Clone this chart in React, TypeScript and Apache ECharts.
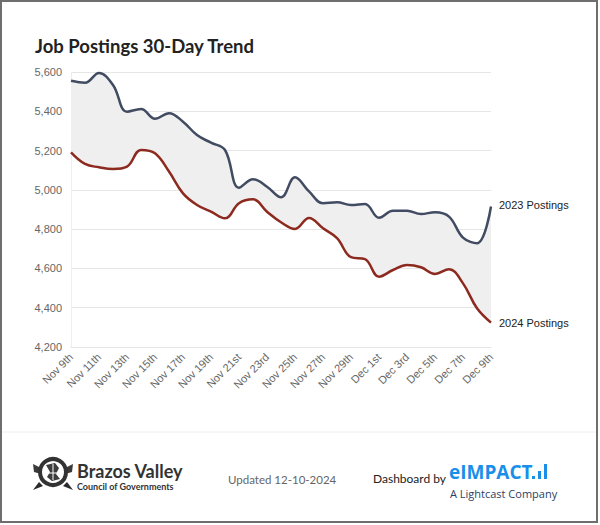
import React, { useEffect, useRef } from "react";
import * as echarts from "echarts";

const categories = [
  "Nov 9th", "Nov 10th", "Nov 11th", "Nov 12th", "Nov 13th", "Nov 14th", "Nov 15th", "Nov 16th",
  "Nov 17th", "Nov 18th", "Nov 19th", "Nov 20th", "Nov 21st", "Nov 22nd", "Nov 23rd", "Nov 24th",
  "Nov 25th", "Nov 26th", "Nov 27th", "Nov 28th", "Nov 29th", "Nov 30th", "Dec 1st", "Dec 2nd",
  "Dec 3rd", "Dec 4th", "Dec 5th", "Dec 6th", "Dec 7th", "Dec 8th", "Dec 9th",
];

const postings2023 = [
  5555, 5545, 5595, 5534, 5398, 5412, 5362, 5390, 5347, 5279, 5240, 5203, 5011, 5054, 5016, 4962,
  5064, 4992, 4932, 4937, 4923, 4928, 4858, 4894, 4894, 4877, 4886, 4864, 4757, 4728, 4915,
];

const postings2024 = [
  5191, 5132, 5115, 5106, 5118, 5203, 5186, 5093, 4982, 4923, 4889, 4855, 4932, 4952, 4889, 4835,
  4801, 4857, 4804, 4754, 4657, 4647, 4558, 4592, 4618, 4606, 4572, 4596, 4524, 4397, 4324,
];

const yMin = 4200;
const yMax = 5600;
const yStep = 200;

const titleText = "Job Postings 30-Day Trend";
const label2023 = "2023 Postings";
const label2024 = "2024 Postings";
const updatedText = "Updated 12-10-2024";

export default function App() {
  const ref = useRef<HTMLDivElement>(null);

  useEffect(() => {
    if (!ref.current) return;
    const chart = echarts.init(ref.current, undefined, { renderer: "svg" });
    const band = postings2023.map((v, i) => v - postings2024[i]);
    const smooth = 0.4;

    const option: any = {
      animation: false,
      backgroundColor: "#ffffff",
      grid: { left: 71, right: 109, top: 72, bottom: 178, containLabel: false },
      xAxis: {
        type: "category",
        data: categories,
        boundaryGap: false,
        axisLine: { show: true, lineStyle: { color: "#e6e6e6", width: 1 } },
        axisTick: { show: false },
        splitLine: { show: false },
        axisLabel: {
          interval: 1,
          rotate: 45,
          color: "#666666",
          fontSize: 11,
          fontFamily: "Liberation Sans, Arial, sans-serif",
          margin: 8,
        },
      },
      yAxis: {
        type: "value",
        min: yMin,
        max: yMax,
        interval: yStep,
        axisLine: { show: true, lineStyle: { color: "#eeeeee", width: 1 } },
        axisTick: { show: false },
        splitLine: { show: true, lineStyle: { color: "#e6e6e6", width: 1 } },
        axisLabel: {
          color: "#666666",
          fontSize: 11,
          fontFamily: "Liberation Sans, Arial, sans-serif",
          margin: 9,
          formatter: (v: number) => v.toLocaleString("en-US"),
        },
      },
      series: [
        {
          type: "line",
          data: postings2024,
          stack: "band",
          smooth,
          symbol: "none",
          lineStyle: { opacity: 0 },
          silent: true,
          z: 1,
        },
        {
          type: "line",
          data: band,
          stack: "band",
          smooth,
          symbol: "none",
          lineStyle: { opacity: 0 },
          areaStyle: { color: "#efefef", opacity: 1 },
          silent: true,
          z: 1,
        },
        {
          name: label2023,
          type: "line",
          data: postings2023,
          smooth,
          symbol: "none",
          lineStyle: { color: "#414b62", width: 2.5 },
          z: 3,
          endLabel: {
            show: true,
            formatter: label2023,
            color: "#222222",
            fontSize: 11,
            fontFamily: "Liberation Sans, Arial, sans-serif",
            distance: 8,
            offset: [0, -2],
          },
        },
        {
          name: label2024,
          type: "line",
          data: postings2024,
          smooth,
          symbol: "none",
          lineStyle: { color: "#8c2a1f", width: 2.5 },
          z: 3,
          endLabel: {
            show: true,
            formatter: label2024,
            color: "#222222",
            fontSize: 11,
            fontFamily: "Liberation Sans, Arial, sans-serif",
            distance: 8,
          },
        },
      ],
      graphic: [
        {
          type: "rect",
          shape: { x: 1, y: 1, width: 596, height: 521 },
          style: { fill: "none", stroke: "#6e6e6e", lineWidth: 2 },
          silent: true,
          z: 10,
        },
        {
          type: "line",
          shape: { x1: 2, y1: 432, x2: 596, y2: 432 },
          style: { stroke: "#eeeeee", lineWidth: 1 },
          silent: true,
        },
        {
          type: "text",
          x: 35,
          y: 46,
          style: {
            text: titleText,
            font: "bold 18.5px Lato, sans-serif",
            fill: "#222222",
            textVerticalAlign: "middle",
          },
        },
        // Brazos Valley emblem
        {
          type: "group",
          x: 53,
          y: 472,
          children: [
            { type: "polygon", shape: { points: [[-20, -8], [-12, -4], [-12, 2], [-19, 0]] }, style: { fill: "#3a3a3a" } },
            { type: "polygon", shape: { points: [[20, -8], [12, -4], [12, 2], [19, 0]] }, style: { fill: "#3a3a3a" } },
            { type: "polygon", shape: { points: [[-14, 10], [-20, 18], [-10, 14]] }, style: { fill: "#2a2a2a" } },
            { type: "polygon", shape: { points: [[14, 10], [20, 18], [10, 14]] }, style: { fill: "#2a2a2a" } },
            { type: "circle", shape: { cx: 0, cy: 0, r: 13 }, style: { fill: "#ffffff", stroke: "#333333", lineWidth: 4 } },
            { type: "polygon", shape: { points: [[-7, -7], [2, -9], [6, -4], [3, 2], [7, 7], [-1, 9], [-6, 5], [-3, 0]] }, style: { fill: "#3d3d3d" } },
            { type: "line", shape: { x1: -6, y1: 1, x2: 6, y2: 1 }, style: { stroke: "#ffffff", lineWidth: 1 } },
            { type: "line", shape: { x1: 0, y1: -8, x2: 0, y2: 8 }, style: { stroke: "#ffffff", lineWidth: 1 } },
          ],
        },
        {
          type: "text",
          x: 77,
          y: 471,
          style: {
            text: "Brazos Valley",
            font: "bold 18px Lato, sans-serif",
            fill: "#333333",
            textVerticalAlign: "middle",
          },
        },
        {
          type: "text",
          x: 77,
          y: 486,
          style: {
            text: "Council of Governments",
            font: "bold 9px Lato, sans-serif",
            fill: "#333333",
            textVerticalAlign: "middle",
          },
        },
        {
          type: "text",
          x: 228,
          y: 479,
          style: {
            text: updatedText,
            font: "11.5px Lato, sans-serif",
            fill: "#666666",
            textVerticalAlign: "middle",
          },
        },
        {
          type: "text",
          x: 373,
          y: 478,
          style: {
            text: "Dashboard by",
            font: "12px Lato, sans-serif",
            fill: "#222222",
            textVerticalAlign: "middle",
          },
        },
        {
          type: "text",
          x: 449,
          y: 472,
          style: {
            text: "eIMPACT",
            font: "bold 19px 'Open Sans', sans-serif",
            fill: "#1a8fea",
            lineHeight: 19,
            textVerticalAlign: "middle",
          },
        },
        { type: "rect", shape: { x: 532, y: 476, width: 3, height: 3 }, style: { fill: "#1a8fea" } },
        { type: "rect", shape: { x: 538, y: 471, width: 3, height: 8 }, style: { fill: "#1a8fea" } },
        { type: "rect", shape: { x: 544, y: 464, width: 3, height: 15 }, style: { fill: "#1a8fea" } },
        {
          type: "text",
          x: 450,
          y: 493,
          style: {
            text: "A Lightcast Company",
            font: "11px 'Open Sans', sans-serif",
            fill: "#2b3f66",
            lineHeight: 11,
            textVerticalAlign: "middle",
          },
        },
      ],
    };

    chart.setOption(option);
    return () => chart.dispose();
  }, []);

  return (
    <div
      ref={ref}
      style={{ position: "fixed", left: 0, top: 0, width: 600, height: 525, background: "#ffffff" }}
    />
  );
}
